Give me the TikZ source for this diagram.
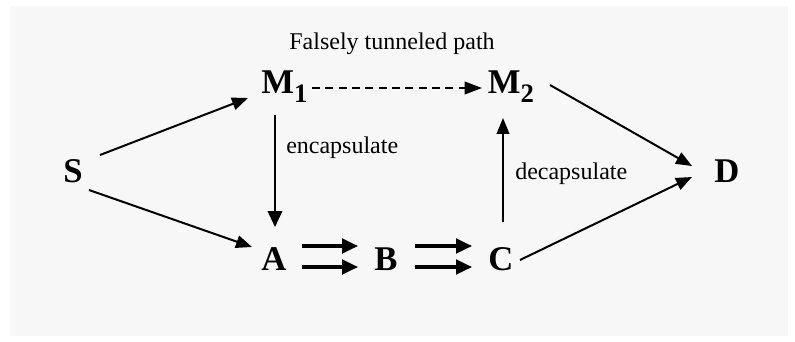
\documentclass[tikz,border=0pt]{standalone}
\usepackage{fontspec}
\setmainfont{Liberation Serif}
\usetikzlibrary{arrows.meta,calc}
\definecolor{bgc}{HTML}{F7F7F7}
\tikzset{
  letter/.style={inner sep=0pt,anchor=base,font=\fontsize{26}{26}\selectfont\bfseries},
  lbl/.style={inner sep=0pt,anchor=base,font=\fontsize{18}{18}\selectfont},
  arr/.style={line width=1.5pt,-{Triangle[length=12pt,width=9.5pt]}},
  thinarr/.style={line width=1.1pt,-{Triangle[length=12pt,width=11pt]}},
  dblarr/.style={line width=2.3pt,-{Triangle[length=12pt,width=11pt]}},
  dasharr/.style={line width=1.3pt,dash pattern=on 6pt off 4pt,-{Triangle[length=13pt,width=9.5pt]}}
}
\newcommand{\subone}[1]{\raisebox{-6pt}{\fontsize{20}{20}\selectfont #1}}
\begin{document}
\begin{tikzpicture}[x=0.75pt,y=-0.75pt]
\useasboundingbox (0,0) rectangle (795,342);
\fill[bgc] (10,6) rectangle (788,336);
\node[letter] (S) at (73,182) {S};
\node[letter] (M1) at (284.5,94) {M\subone{1}};
\node[letter] (M2) at (511,94) {M\subone{2}};
\node[letter] (A) at (274,270) {A};
\node[letter] (B) at (386,270) {B};
\node[letter] (C) at (501,270) {C};
\node[letter] (D) at (727,182) {D};
\node[lbl] (ftp) at (392,50) {Falsely tunneled path};
\node[lbl,anchor=base west] (enc) at (286,153) {encapsulate};
\node[lbl,anchor=base west] (dec) at (515,180) {decapsulate};
% connectors
\draw[arr] ($(S.base)+(27,-27)$) -- ($(M1.base)+(-36.5,4)$);
\draw[arr] ($(S.base)+(16,8)$) -- ($(A.base)+(-22,-23)$);
\draw[thinarr] ($(M1.base)+(-9.5,21)$) -- ($(A.base)+(1,-43)$);
\draw[dasharr] ($(M1.base)+(27.5,-6)$) -- ($(M2.base)+(-29,-6)$);
\draw[arr] ($(M2.base)+(39,-9)$) -- ($(D.base)+(-35,-16)$);
\draw[arr] ($(C.base)+(19,-10)$) -- ($(D.base)+(-35,-5)$);
\draw[arr] ($(C.base)+(2,-48)$) -- ($(M2.base)+(-8,24)$);
\draw[dblarr] ($(A.base)+(28,-24)$) -- ($(B.base)+(-28,-24)$);
\draw[dblarr] ($(A.base)+(28,-3)$) -- ($(B.base)+(-28,-3)$);
\draw[dblarr] ($(B.base)+(29,-24)$) -- ($(C.base)+(-29,-24)$);
\draw[dblarr] ($(B.base)+(29,-3)$) -- ($(C.base)+(-29,-3)$);
\end{tikzpicture}
\end{document}
